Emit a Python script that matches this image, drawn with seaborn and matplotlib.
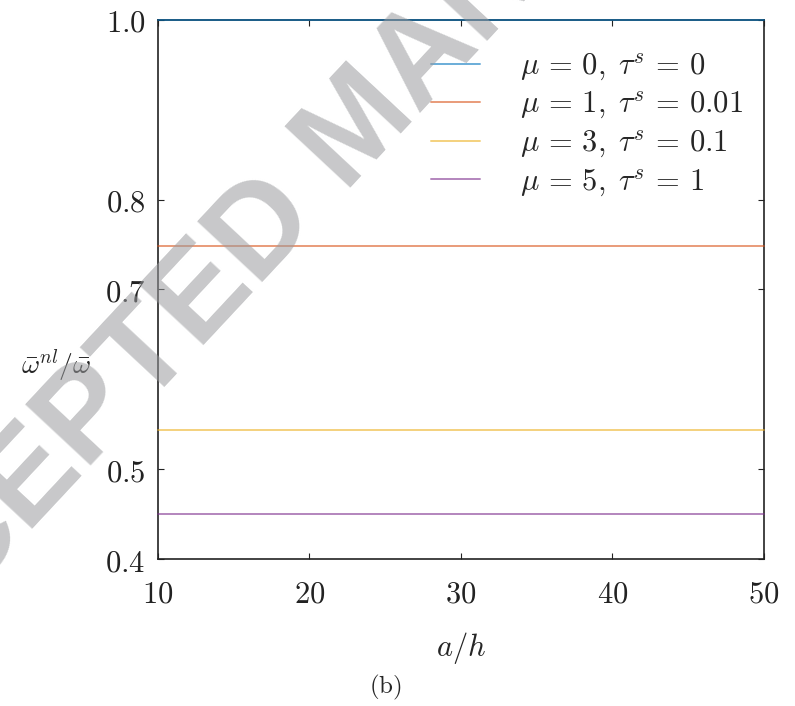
import matplotlib
matplotlib.use("Agg")
import matplotlib.pyplot as plt
import seaborn as sns
import pandas as pd

# Data
a_over_h = [10, 20, 30, 40, 50]
labels = [r"$\mu\,=\,0,\;\tau^s\,=\,0$", r"$\mu\,=\,1,\;\tau^s\,=\,0.01$",
          r"$\mu\,=\,3,\;\tau^s\,=\,0.1$", r"$\mu\,=\,5,\;\tau^s\,=\,1$"]
ratio_mu0 = [1.0, 1.0, 1.0, 1.0, 1.0]
ratio_mu1 = [0.748, 0.748, 0.748, 0.748, 0.748]
ratio_mu3 = [0.544, 0.544, 0.544, 0.544, 0.544]
ratio_mu5 = [0.450, 0.450, 0.450, 0.450, 0.450]
xticks = [10, 20, 30, 40, 50]
yticks = [0.4, 0.5, 0.7, 0.8, 1.0]
colors = ["#0072BD", "#D95319", "#EDB120", "#7E2F8E"]

series = [ratio_mu0, ratio_mu1, ratio_mu3, ratio_mu5]
rows = []
for lab, vals in zip(labels, series):
    for x, v in zip(a_over_h, vals):
        rows.append({"a/h": x, "ratio": v, "case": lab})
df = pd.DataFrame(rows)

sns.set_theme(style="ticks")
plt.rcParams["mathtext.fontset"] = "cm"
plt.rcParams["font.family"] = ["DejaVu Serif"]

fig = plt.figure(figsize=(7.95, 7.06), dpi=100)
ax = fig.add_axes([0.1987, 0.2082, 0.7623, 0.7635])

sns.lineplot(data=df, x="a/h", y="ratio", hue="case", hue_order=labels,
             palette=colors, linewidth=1.4, alpha=0.58, errorbar=None,
             ax=ax, legend=True)
for ln in ax.lines:
    ln.set_clip_on(False)
    ln.set_zorder(3)

ax.set_xlim(10, 50)
ax.set_ylim(0.4, 1.0)
ax.set_xticks(xticks)
ax.set_xticklabels([rf"${t}$" for t in xticks])
ax.set_yticks(yticks)
ax.set_yticklabels([rf"${t:.1f}$" for t in yticks])
ax.tick_params(axis="both", direction="in", length=4, width=0.8, labelsize=22,
               top=True, right=True, colors="#222222")
ax.tick_params(axis="x", pad=14)
ax.tick_params(axis="y", pad=9)
for sp in ax.spines.values():
    sp.set_visible(True)
    sp.set_linewidth(1.2)
    sp.set_color("#222222")

ax.set_xlabel(r"$a/h$", fontsize=22, labelpad=15)
ax.set_ylabel(r"$\bar{\omega}^{nl}/\bar{\omega}$", fontsize=20, rotation=0,
              va="center")
ax.yaxis.set_label_coords(-0.168, 0.358)

leg = ax.legend(loc="upper right", bbox_to_anchor=(1.0, 0.983), frameon=False,
                fontsize=22, handlelength=1.6, handletextpad=1.3,
                labelspacing=0.2, borderaxespad=0.3)
for h in leg.get_lines():
    h.set_linewidth(1.4)

fig.text(385 / 795, 1 - 687 / 706, r"$\mathrm{(b)}$", fontsize=18, ha="center",
         va="center")

# Watermark
fig.text(0.452, 0.818, "ACCEPTED MANUSCRIPT", fontsize=93, fontweight="bold",
         family="Liberation Sans", color="#9a9b9e", alpha=0.55, rotation=47,
         ha="center", va="center", rotation_mode="anchor", zorder=10)

fig.savefig("out.png", dpi=100)
